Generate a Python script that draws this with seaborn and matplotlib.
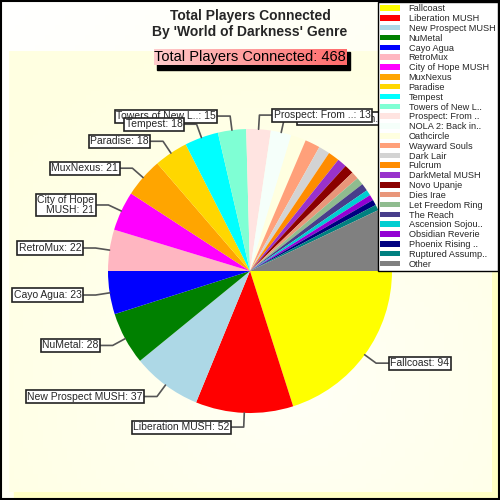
import numpy as np
import matplotlib
matplotlib.use("Agg")
import matplotlib.pyplot as plt
from matplotlib.patches import Rectangle
import seaborn as sns

sns.set_theme(style="white")
plt.rcParams['font.family'] = ['Liberation Sans', 'DejaVu Sans']

# data
games = ["Fallcoast", "Liberation MUSH", "New Prospect MUSH", "NuMetal", "Cayo Agua",
         "RetroMux", "City of Hope MUSH", "MuxNexus", "Paradise", "Tempest",
         "Towers of New L..", "Prospect: From ..", "NOLA 2: Back in..", "Oathcircle",
         "Wayward Souls", "Dark Lair", "Fulcrum", "DarkMetal MUSH", "Novo Upanje",
         "Dies Irae", "Let Freedom Ring", "The Reach", "Ascension Sojou..",
         "Obsidian Reverie", "Phoenix Rising ..", "Ruptured Assump..", "Other"]
players = [94, 52, 37, 28, 23, 22, 21, 21, 18, 18, 15, 13, 11, 8,
           8, 6, 6, 5, 5, 4, 4, 4, 3, 3, 3, 3, 33]
colors = ["#FFFF00", "#FF0000", "#ADD8E6", "#008000", "#0000FF", "#FFB6C1", "#FF00FF",
          "#FFA500", "#FFD700", "#00FFFF", "#7FFFD4", "#FFE4E1", "#F5FFFA", "#FFFFE0",
          "#FFA07A", "#D3D3D3", "#FF8C00", "#9932CC", "#8B0000", "#E9967A", "#8FBC8F",
          "#483D8B", "#00CED1", "#9400D3", "#000080", "#008080", "#808080"]
label_min = 11
wrapped = {"City of Hope MUSH": "City of Hope\nMUSH"}

total = sum(players)

fig = plt.figure(figsize=(5, 5), dpi=100)

# background layer in pixel coords
bg = fig.add_axes([0, 0, 1, 1])
bg.axis("off")
yy, xx = np.mgrid[0:1:100j, 0:1:100j]
outer = (xx + yy) / 2
outer_rgb = np.dstack([np.ones_like(outer), np.ones_like(outer), 1 - 0.10 * outer])
bg.imshow(outer_rgb, extent=(0, 500, 500, 0), zorder=0)
bg.add_patch(Rectangle((14, 56), 483, 441, color="#FFFFC4", zorder=1))
d = np.sqrt((xx - 0.6) ** 2 + (yy - 0.75) ** 2)
inner = np.clip(d / 0.8, 0, 1)
inner_rgb = np.dstack([np.ones_like(inner), np.ones_like(inner), 0.965 - 0.08 * inner])
bg.imshow(inner_rgb, extent=(9, 492, 492, 51), zorder=2)

# subtitle box with shadow
bg.add_patch(Rectangle((157, 52), 193, 18, color="black", zorder=3))
grad = np.linspace(0, 1, 100)[None, :]
sub_rgb = np.dstack([np.ones_like(grad), 0.80 - 0.38 * grad, 0.80 - 0.38 * grad])
bg.imshow(sub_rgb, extent=(154, 347, 65, 49), zorder=4)
bg.text(250, 57.5, f"Total Players Connected: {total}", ha="center", va="center",
        fontsize=10.5, color="black", zorder=5)
bg.add_patch(Rectangle((1, 1), 498, 498, fill=False, ec="black", lw=1.5, zorder=10))
bg.set_xlim(0, 500)
bg.set_ylim(500, 0)
bg.set_aspect("auto")

fig.text(0.5, 1 - 24 / 500, "Total Players Connected\nBy 'World of Darkness' Genre",
         ha="center", va="center", fontsize=10, fontweight="bold", linespacing=1.1)

# pie
ax = fig.add_axes([108 / 500, (500 - 271 - 142) / 500, 284 / 500, 284 / 500])
wedges, _ = ax.pie(players, colors=colors, startangle=0, counterclock=False,
                   radius=1, wedgeprops=dict(linewidth=0))
ax.set_xlim(-1, 1)
ax.set_ylim(-1, 1)
ax.set_aspect("equal")
ax.axis("off")

for i, (w, name, val) in enumerate(zip(wedges, games, players)):
    if val < label_min:
        continue
    ang = np.deg2rad((w.theta1 + w.theta2) / 2)
    c, s = np.cos(ang), np.sin(ang)
    ex, ey = 1.1 * c, 1.1 * s
    side = 1 if c >= 0 else -1
    tx = ex + side * 0.1
    ax.plot([c, ex, tx], [s, ey, ey], color="#555555", lw=1.2, clip_on=False,
            zorder=50 - i)
    ax.text(tx, ey, f"{wrapped.get(name, name)}: {val}", ha="left" if side > 0 else "right",
            va="center", fontsize=7.5, linespacing=0.95, zorder=100 - i,
            bbox=dict(boxstyle="square,pad=0.15", fc="white", ec="#222222", lw=1.2))

fig.legend(wedges, games, loc="upper left", bbox_to_anchor=(378 / 500, 1 - 2 / 500),
           fontsize=6.6, frameon=True, fancybox=False, framealpha=1, edgecolor="black",
           facecolor="white", handlelength=2.2, handleheight=0.55, handletextpad=0.9,
           labelspacing=0.09, borderpad=0.25, borderaxespad=0)

fig.savefig("out.png", dpi=100)
